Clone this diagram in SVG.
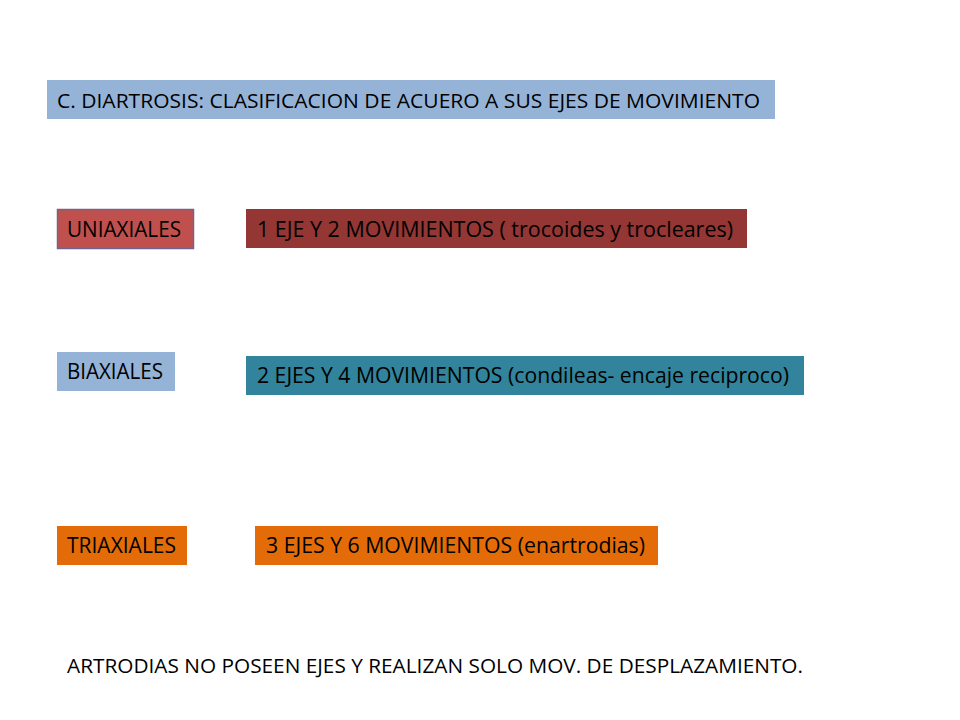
<svg xmlns="http://www.w3.org/2000/svg" width="960" height="720" viewBox="0 0 960 720">
<style>
text{font-family:"Open Sans",Lato,"Liberation Sans",sans-serif;font-size:20.5px;fill:#000}
.b{font-size:21px}
</style>
<rect width="960" height="720" fill="#fff"/>
<g id="title"><rect x="47" y="80" width="728" height="39" fill="#95b3d7"/><text x="57" y="107.5" textLength="703" lengthAdjust="spacingAndGlyphs">C. DIARTROSIS: CLASIFICACION DE ACUERO A SUS EJES DE MOVIMIENTO</text></g>
<g id="uniaxiales"><rect x="57.5" y="209.5" width="136" height="39" fill="#c0504d" stroke="#6f648f" stroke-width="1.5"/><text class="b" x="67" y="236.5" textLength="114" lengthAdjust="spacingAndGlyphs">UNIAXIALES</text></g>
<g id="uni-desc"><rect x="246" y="209" width="501" height="39" fill="#943634"/><text class="b" x="257" y="236.5" textLength="476" lengthAdjust="spacingAndGlyphs">1 EJE Y 2 MOVIMIENTOS  ( trocoides y trocleares)</text></g>
<g id="biaxiales"><rect x="57" y="352" width="118" height="39" fill="#95b3d7"/><text class="b" x="67" y="379" textLength="96" lengthAdjust="spacingAndGlyphs">BIAXIALES</text></g>
<g id="bi-desc"><rect x="246" y="356" width="558" height="39" fill="#31849b"/><text class="b" x="257" y="383" textLength="532" lengthAdjust="spacingAndGlyphs">2 EJES Y 4 MOVIMIENTOS (condileas- encaje reciproco)</text></g>
<g id="triaxiales"><rect x="57" y="526" width="130" height="39" fill="#e36c09"/><text class="b" x="67" y="553" textLength="109" lengthAdjust="spacingAndGlyphs">TRIAXIALES</text></g>
<g id="tri-desc"><rect x="255" y="526" width="403" height="39" fill="#e36c09"/><text class="b" x="266" y="553" textLength="379" lengthAdjust="spacingAndGlyphs">3 EJES Y 6 MOVIMIENTOS (enartrodias)</text></g>
<g id="note"><text x="67" y="673" textLength="736" lengthAdjust="spacingAndGlyphs">ARTRODIAS NO POSEEN EJES Y REALIZAN SOLO MOV. DE DESPLAZAMIENTO.</text></g>
<g id="connectors"/>
</svg>
